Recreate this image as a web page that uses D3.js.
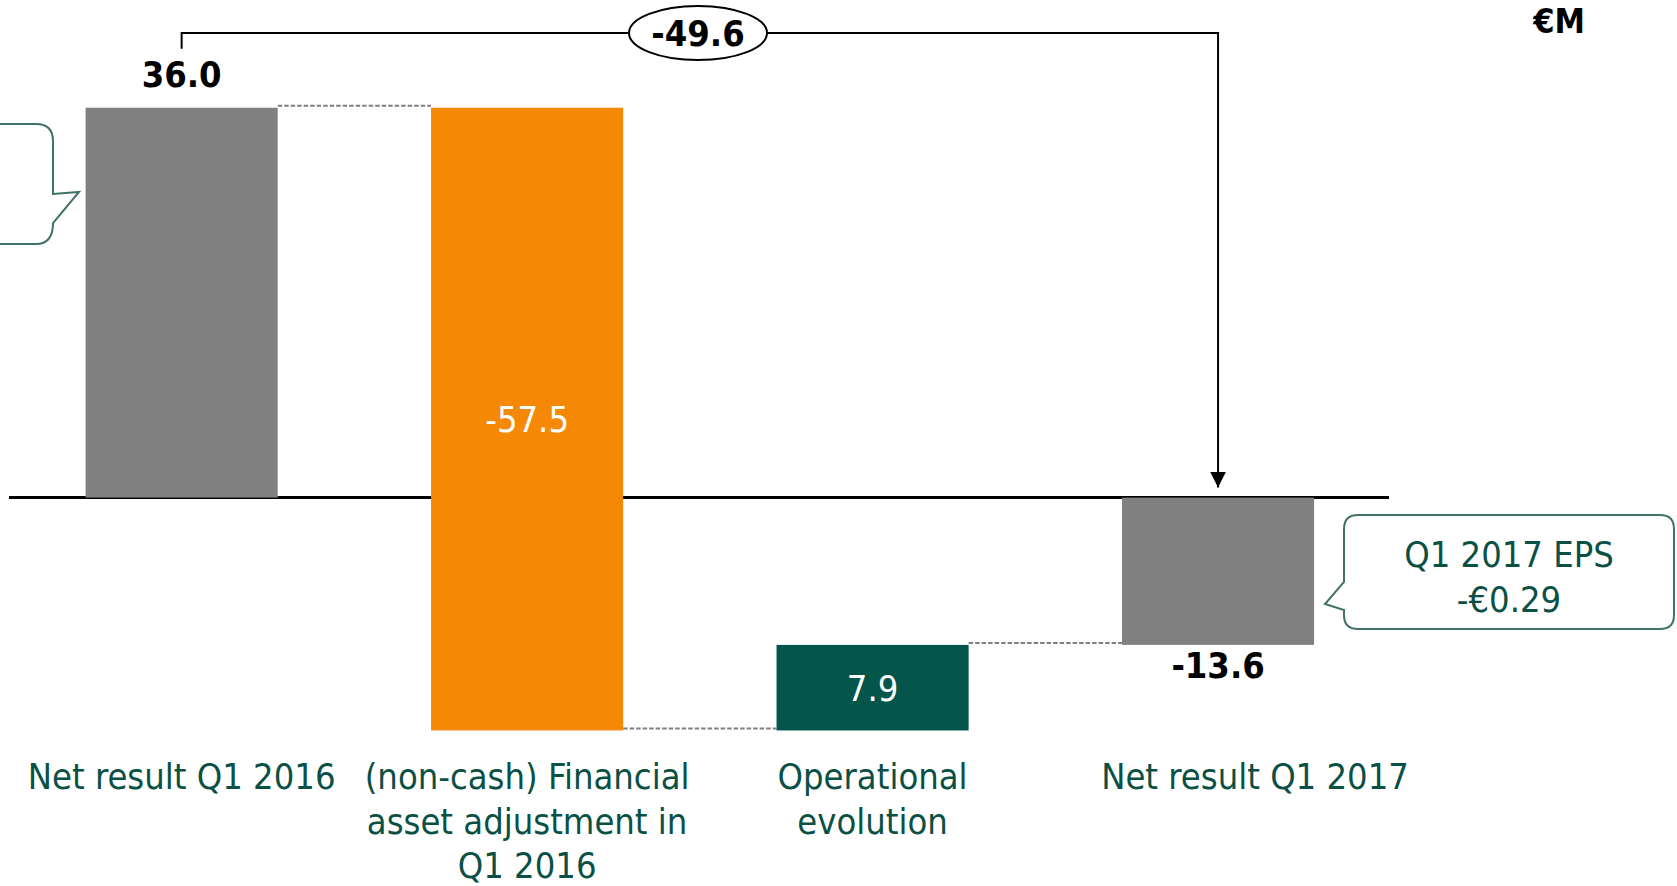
<!DOCTYPE html>
<html>
<head>
<meta charset="utf-8">
<script src="https://cdn.jsdelivr.net/npm/d3@7"></script>
<style>
  html, body { margin: 0; padding: 0; background: #fff; }
  svg text { font-family: "DejaVu Sans Condensed", "DejaVu Sans", sans-serif; font-stretch: condensed; }
</style>
</head>
<body>
<svg id="chart"></svg>
<script>
// waterfall data (EUR M)
const categories = ["Net result Q1 2016", "Financial asset adjustment", "Operational evolution", "Net result Q1 2017"];
const categoryLines = [
  ["Net result Q1 2016"],
  ["(non-cash) Financial", "asset adjustment in", "Q1 2016"],
  ["Operational", "evolution"],
  ["Net result Q1 2017"]
];
const values = [36.0, -57.5, 7.9, -13.6];
const barTypes = ["total", "delta", "delta", "total"];
const valueLabels = ["36.0", "-57.5", "7.9", "-13.6"];
const changeLabel = "-49.6";
const unitLabel = "€M";
const epsLines = ["Q1 2017 EPS", "-€0.29"];

const w = 1677;
const h = 886;
const textColor = "#0b5045";
const colors = { total: "#808080", down: "#f58804", up: "#04564b" };

const svg = d3.select("#chart").attr("width", w).attr("height", h);

const xScale = d3.scaleBand()
  .domain(categories)
  .range([85.6, 1314.1])
  .paddingInner(0.444)
  .paddingOuter(0);

const yScale = d3.scaleLinear()
  .domain([-30, 40])
  .range([822.5, 64.4]);

// build the floating bars
let running = 0;
const bars = categories.map((c, i) => {
  let start, end;
  if (barTypes[i] === "total") {
    start = 0;
    end = values[i];
  } else {
    start = running;
    end = running + values[i];
  }
  running = end;
  return { cat: c, start, end, value: values[i], type: barTypes[i], label: valueLabels[i], lines: categoryLines[i] };
});

// zero line
svg.append("line")
  .attr("x1", 9).attr("x2", 1389)
  .attr("y1", yScale(0)).attr("y2", yScale(0))
  .attr("stroke", "#000").attr("stroke-width", 3);

// dashed connectors
bars.slice(0, -1).forEach((d, i) => {
  svg.append("line")
    .attr("x1", xScale(d.cat) + xScale.bandwidth())
    .attr("x2", xScale(bars[i + 1].cat))
    .attr("y1", yScale(d.end) - 2)
    .attr("y2", yScale(d.end) - 2)
    .attr("stroke", "#808080")
    .attr("stroke-width", 2)
    .attr("stroke-dasharray", "4.5,2");
});

svg.selectAll("rect.bar")
  .data(bars)
  .enter()
  .append("rect")
  .attr("class", "bar")
  .attr("x", (d) => xScale(d.cat))
  .attr("width", xScale.bandwidth())
  .attr("y", (d) => yScale(Math.max(d.start, d.end)))
  .attr("height", (d) => Math.abs(yScale(d.start) - yScale(d.end)))
  .attr("fill", (d) => d.type === "total" ? colors.total : (d.value < 0 ? colors.down : colors.up));

const cx = (d) => xScale(d.cat) + xScale.bandwidth() / 2;

// value labels
bars.forEach((d) => {
  const t = svg.append("text").attr("x", cx(d)).attr("text-anchor", "middle").attr("font-size", 36).text(d.label);
  if (d.type === "total") {
    t.attr("font-weight", "bold").attr("fill", "#000");
    if (d.end >= 0) t.attr("y", yScale(d.end) - 21);
    else t.attr("y", yScale(d.end) + 33);
  } else {
    t.attr("fill", "#fff").attr("y", (yScale(d.start) + yScale(d.end)) / 2 + 13);
  }
});

// category labels
bars.forEach((d, i) => {
  const t = svg.append("text")
    .attr("text-anchor", "middle")
    .attr("font-size", 36)
    .attr("fill", textColor)
    .attr("y", 789);
  const dx = i === 3 ? 37 : 0;
  d.lines.forEach((line, j) => {
    t.append("tspan").attr("x", cx(d) + dx).attr("dy", j === 0 ? 0 : 44.5).text(line);
  });
});

// total change bracket
const first = bars[0], last = bars[bars.length - 1];
const topY = 33;
svg.append("defs").append("marker")
  .attr("id", "arrow")
  .attr("viewBox", "0 0 10 10")
  .attr("refX", 10).attr("refY", 5)
  .attr("markerWidth", 16).attr("markerHeight", 16)
  .attr("markerUnits", "userSpaceOnUse")
  .attr("orient", "auto")
  .append("path").attr("d", "M0,0L10,5L0,10Z").attr("fill", "#000");

svg.append("path")
  .attr("d", `M${cx(first)},${yScale(first.end) - 59}V${topY}H${cx(last)}V${yScale(0) - 10}`)
  .attr("fill", "none")
  .attr("stroke", "#000")
  .attr("stroke-width", 2)
  .attr("marker-end", "url(#arrow)");

svg.append("ellipse")
  .attr("cx", 698).attr("cy", topY)
  .attr("rx", 69).attr("ry", 27)
  .attr("fill", "#fff").attr("stroke", "#000").attr("stroke-width", 2);
svg.append("text")
  .attr("x", 698).attr("y", topY + 13)
  .attr("text-anchor", "middle")
  .attr("font-size", 36).attr("font-weight", "bold")
  .text(changeLabel);

svg.append("text")
  .attr("x", 1559).attr("y", 33)
  .attr("text-anchor", "middle")
  .attr("font-size", 34).attr("font-weight", "bold")
  .text(unitLabel);

// callouts
const calloutStroke = "#3f7268";
// left one, mostly off the page
svg.append("path")
  .attr("d", "M-20,124H36Q53,124 53,141V194L79,192L53,223Q53,244 36,244H-20")
  .attr("fill", "none").attr("stroke", calloutStroke).attr("stroke-width", 2);

svg.append("path")
  .attr("d", "M1358,515H1660Q1674,515 1674,529V615Q1674,629 1660,629H1358Q1344,629 1344,615V610L1325,604L1344,582V529Q1344,515 1358,515Z")
  .attr("fill", "#fff").attr("stroke", calloutStroke).attr("stroke-width", 2);

const eps = svg.append("text")
  .attr("text-anchor", "middle")
  .attr("font-size", 36)
  .attr("fill", textColor)
  .attr("y", 567);
epsLines.forEach((line, j) => {
  eps.append("tspan").attr("x", 1509).attr("dy", j === 0 ? 0 : 45).text(line);
});
</script>
</body>
</html>
